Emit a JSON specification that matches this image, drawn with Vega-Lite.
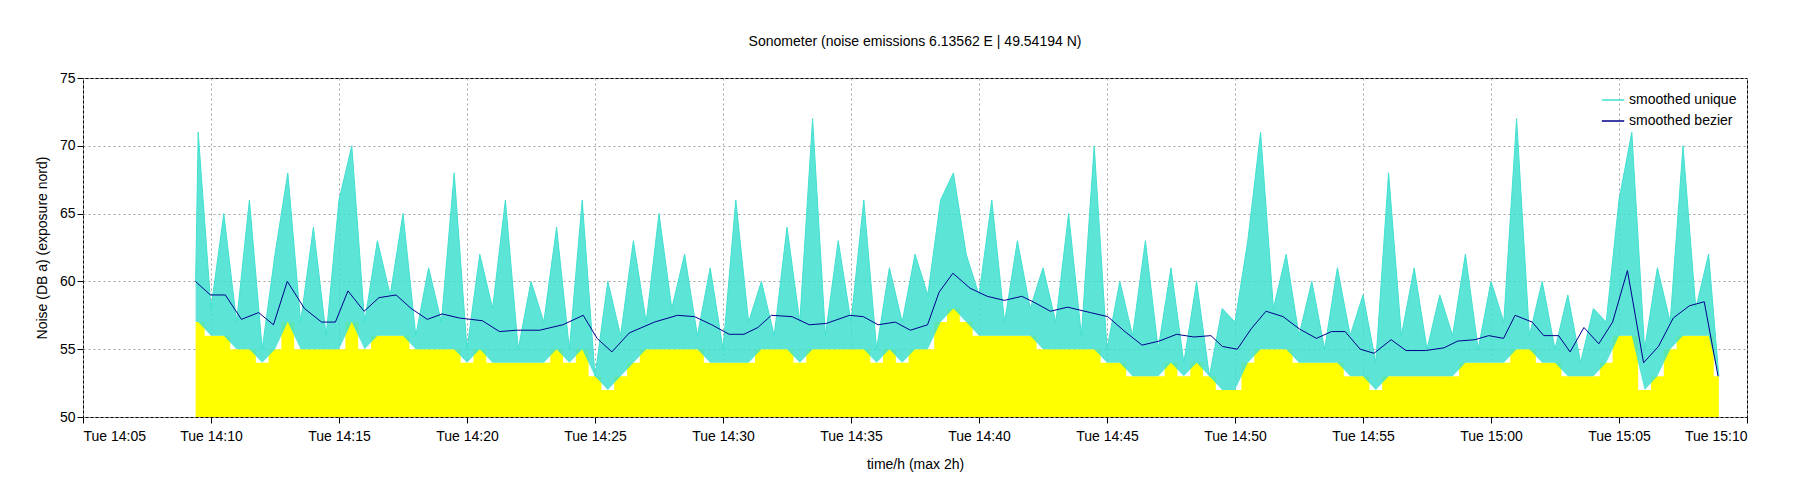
{
  "$schema": "https://vega.github.io/schema/vega-lite/v6.json",
  "autosize": "none",
  "width": 1664,
  "height": 339,
  "padding": {"left": 83, "top": 78, "right": 53, "bottom": 83},
  "title": {"text": "Sonometer (noise emissions 6.13562 E | 49.54194 N)", "fontSize": 14, "fontWeight": "normal", "font": "Liberation Sans", "offset": 22},
  "datasets": {
    "raw": [
      {"t":9.4,"n":60,"lo":57},{"t":9.5,"n":71,"lo":57},{"t":10,"n":58,"lo":56},{"t":10.5,"n":65,"lo":56},{"t":11,"n":57,"lo":55},{"t":11.5,"n":66,"lo":55},{"t":12,"n":55,"lo":54},{"t":12.5,"n":62,"lo":55},{"t":13,"n":68,"lo":57},{"t":13.5,"n":57,"lo":55},{"t":14,"n":64,"lo":55},{"t":14.5,"n":56,"lo":55},{"t":15,"n":66,"lo":55},{"t":15.5,"n":70,"lo":57},{"t":16,"n":57,"lo":55},{"t":16.5,"n":63,"lo":56},{"t":17,"n":59,"lo":56},{"t":17.5,"n":65,"lo":56},{"t":18,"n":56,"lo":55},{"t":18.5,"n":61,"lo":55},{"t":19,"n":57,"lo":55},{"t":19.5,"n":68,"lo":55},{"t":20,"n":55,"lo":54},{"t":20.5,"n":62,"lo":55},{"t":21,"n":58,"lo":54},{"t":21.5,"n":66,"lo":54},{"t":22,"n":55,"lo":54},{"t":22.5,"n":60,"lo":54},{"t":23,"n":57,"lo":54},{"t":23.5,"n":64,"lo":55},{"t":24,"n":55,"lo":54},{"t":24.5,"n":66,"lo":55},{"t":25,"n":53,"lo":53},{"t":25.5,"n":60,"lo":52},{"t":26,"n":56,"lo":53},{"t":26.5,"n":63,"lo":54},{"t":27,"n":57,"lo":55},{"t":27.5,"n":65,"lo":55},{"t":28,"n":58,"lo":55},{"t":28.5,"n":62,"lo":55},{"t":29,"n":56,"lo":55},{"t":29.5,"n":61,"lo":54},{"t":30,"n":55,"lo":54},{"t":30.5,"n":66,"lo":54},{"t":31,"n":57,"lo":54},{"t":31.5,"n":60,"lo":55},{"t":32,"n":56,"lo":55},{"t":32.5,"n":64,"lo":55},{"t":33,"n":57,"lo":54},{"t":33.5,"n":72,"lo":55},{"t":34,"n":56,"lo":55},{"t":34.5,"n":63,"lo":55},{"t":35,"n":57,"lo":55},{"t":35.5,"n":66,"lo":55},{"t":36,"n":55,"lo":54},{"t":36.5,"n":61,"lo":55},{"t":37,"n":57,"lo":54},{"t":37.5,"n":62,"lo":55},{"t":38,"n":59,"lo":55},{"t":38.5,"n":66,"lo":57},{"t":39,"n":68,"lo":58},{"t":39.5,"n":62,"lo":57},{"t":40,"n":59,"lo":56},{"t":40.5,"n":66,"lo":56},{"t":41,"n":57,"lo":56},{"t":41.5,"n":63,"lo":56},{"t":42,"n":58,"lo":56},{"t":42.5,"n":61,"lo":55},{"t":43,"n":57,"lo":55},{"t":43.5,"n":65,"lo":55},{"t":44,"n":56,"lo":55},{"t":44.5,"n":70,"lo":55},{"t":45,"n":55,"lo":54},{"t":45.5,"n":60,"lo":54},{"t":46,"n":56,"lo":53},{"t":46.5,"n":63,"lo":53},{"t":47,"n":55,"lo":53},{"t":47.5,"n":61,"lo":54},{"t":48,"n":54,"lo":53},{"t":48.5,"n":60,"lo":54},{"t":49,"n":53,"lo":53},{"t":49.5,"n":58,"lo":52},{"t":50,"n":57,"lo":52},{"t":50.5,"n":63,"lo":54},{"t":51,"n":71,"lo":55},{"t":51.5,"n":58,"lo":55},{"t":52,"n":62,"lo":55},{"t":52.5,"n":56,"lo":54},{"t":53,"n":60,"lo":54},{"t":53.5,"n":55,"lo":54},{"t":54,"n":61,"lo":54},{"t":54.5,"n":56,"lo":53},{"t":55,"n":59,"lo":53},{"t":55.5,"n":54,"lo":52},{"t":56,"n":68,"lo":53},{"t":56.5,"n":56,"lo":53},{"t":57,"n":61,"lo":53},{"t":57.5,"n":55,"lo":53},{"t":58,"n":59,"lo":53},{"t":58.5,"n":56,"lo":53},{"t":59,"n":62,"lo":54},{"t":59.5,"n":55,"lo":54},{"t":60,"n":60,"lo":54},{"t":60.5,"n":57,"lo":54},{"t":61,"n":72,"lo":55},{"t":61.5,"n":56,"lo":55},{"t":62,"n":60,"lo":54},{"t":62.5,"n":55,"lo":54},{"t":63,"n":59,"lo":53},{"t":63.5,"n":54,"lo":53},{"t":64,"n":58,"lo":53},{"t":64.5,"n":57,"lo":54},{"t":65,"n":66,"lo":56},{"t":65.5,"n":71,"lo":56},{"t":66,"n":55,"lo":52},{"t":66.5,"n":61,"lo":53},{"t":67,"n":57,"lo":55},{"t":67.5,"n":70,"lo":56},{"t":68,"n":58,"lo":56},{"t":68.5,"n":62,"lo":56},{"t":68.9,"n":53,"lo":53}
    ],
    "bez": [
      {"t":9.39,"v":60},{"t":9.98,"v":59},{"t":10.56,"v":59},{"t":11.19,"v":57.2},{"t":11.86,"v":57.7},{"t":12.44,"v":56.8},{"t":12.98,"v":60},{"t":13.65,"v":58},{"t":14.32,"v":57},{"t":14.86,"v":57},{"t":15.35,"v":59.3},{"t":15.98,"v":57.8},{"t":16.56,"v":58.8},{"t":17.23,"v":59},{"t":17.82,"v":58},{"t":18.45,"v":57.2},{"t":19.03,"v":57.6},{"t":19.7,"v":57.3},{"t":20.6,"v":57.1},{"t":21.27,"v":56.3},{"t":21.94,"v":56.4},{"t":22.84,"v":56.4},{"t":23.74,"v":56.8},{"t":24.54,"v":57.5},{"t":25.08,"v":55.8},{"t":25.66,"v":54.8},{"t":26.34,"v":56.2},{"t":27.32,"v":57},{"t":28.22,"v":57.5},{"t":28.89,"v":57.4},{"t":29.56,"v":56.8},{"t":30.24,"v":56.1},{"t":30.82,"v":56.1},{"t":31.36,"v":56.6},{"t":31.89,"v":57.5},{"t":32.7,"v":57.4},{"t":33.37,"v":56.8},{"t":34.04,"v":56.9},{"t":34.94,"v":57.5},{"t":35.48,"v":57.4},{"t":36.06,"v":56.8},{"t":36.73,"v":57},{"t":37.32,"v":56.4},{"t":37.99,"v":56.8},{"t":38.44,"v":59.2},{"t":38.98,"v":60.6},{"t":39.65,"v":59.5},{"t":40.32,"v":58.9},{"t":40.99,"v":58.6},{"t":41.67,"v":58.9},{"t":42.11,"v":58.5},{"t":42.79,"v":57.8},{"t":43.46,"v":58.1},{"t":44.35,"v":57.7},{"t":45.03,"v":57.4},{"t":45.7,"v":56.3},{"t":46.37,"v":55.3},{"t":47.04,"v":55.6},{"t":47.72,"v":56.1},{"t":48.39,"v":55.9},{"t":49.06,"v":56},{"t":49.51,"v":55.2},{"t":50.09,"v":55},{"t":50.63,"v":56.5},{"t":51.21,"v":57.8},{"t":51.88,"v":57.4},{"t":52.51,"v":56.5},{"t":53.18,"v":55.8},{"t":53.77,"v":56.3},{"t":54.3,"v":56.3},{"t":54.89,"v":55},{"t":55.43,"v":54.7},{"t":56.1,"v":55.7},{"t":56.68,"v":54.9},{"t":57.44,"v":54.9},{"t":58.16,"v":55.1},{"t":58.7,"v":55.6},{"t":59.37,"v":55.7},{"t":59.91,"v":56},{"t":60.49,"v":55.8},{"t":60.94,"v":57.5},{"t":61.61,"v":57},{"t":62.06,"v":56},{"t":62.64,"v":56},{"t":63.09,"v":54.8},{"t":63.63,"v":56.6},{"t":64.21,"v":55.4},{"t":64.75,"v":57},{"t":65.33,"v":60.8},{"t":65.96,"v":54},{"t":66.54,"v":55.2},{"t":67.12,"v":57.3},{"t":67.75,"v":58.2},{"t":68.33,"v":58.5},{"t":68.87,"v":53}
    ]
  },
  "encoding": {
    "x": {
      "field": "t", "type": "quantitative",
      "scale": {"domain": [5, 70], "nice": false, "zero": false},
      "axis": {
        "title": "time/h (max 2h)", "titlePadding": 14,
        "values": [5,10,15,20,25,30,35,40,45,50,55,60,65,70],
        "labelExpr": "datum.value < 60 ? 'Tue 14:' + (datum.value < 10 ? '0' : '') + datum.value : 'Tue 15:' + (datum.value < 70 ? '0' : '') + (datum.value - 60)",
        "labelPadding": 6
      }
    }
  },
  "layer": [
    {
      "data": {"name": "raw"},
      "mark": {"type": "area", "color": "#ffff00", "interpolate": "step"},
      "encoding": {
        "y": {"field": "lo", "type": "quantitative", "scale": {"domain": [50, 75], "nice": false, "zero": false},
          "axis": {"title": "Noise (DB a) (exposure nord)", "values": [50,55,60,65,70,75], "titlePadding": 10}},
        "y2": {"datum": 50}
      }
    },
    {
      "data": {"name": "raw"},
      "mark": {"type": "area", "color": "#40e0d0", "opacity": 0.85},
      "encoding": {
        "y": {"field": "n", "type": "quantitative"},
        "y2": {"field": "lo"}
      }
    },
    {
      "data": {"name": "raw"},
      "mark": {"type": "line", "strokeWidth": 1},
      "encoding": {
        "y": {"field": "n", "type": "quantitative"},
        "color": {"datum": "smoothed unique"}
      }
    },
    {
      "data": {"name": "bez"},
      "mark": {"type": "line", "strokeWidth": 1},
      "encoding": {
        "y": {"field": "v", "type": "quantitative"},
        "color": {"datum": "smoothed bezier"}
      }
    }
  ],
  "config": {
    "font": "Liberation Sans",
    "view": {"stroke": "#000000", "strokeWidth": 1},
    "axis": {
      "grid": true, "gridColor": "#a0a0a0", "gridDash": [2, 3], "gridOpacity": 1,
      "domain": false, "tickColor": "#000000", "tickSize": 6,
      "labelFontSize": 14, "labelColor": "#000000",
      "titleFontSize": 14, "titleFontWeight": "normal", "titleColor": "#000000"
    },
    "range": {"category": ["#40e0d0", "#00008b"]},
    "legend": {
      "orient": "top-right", "title": null, "symbolType": "stroke",
      "symbolSize": 500, "symbolStrokeWidth": 1.5, "labelFontSize": 14,
      "offset": 10, "rowPadding": 2
    }
  }
}
